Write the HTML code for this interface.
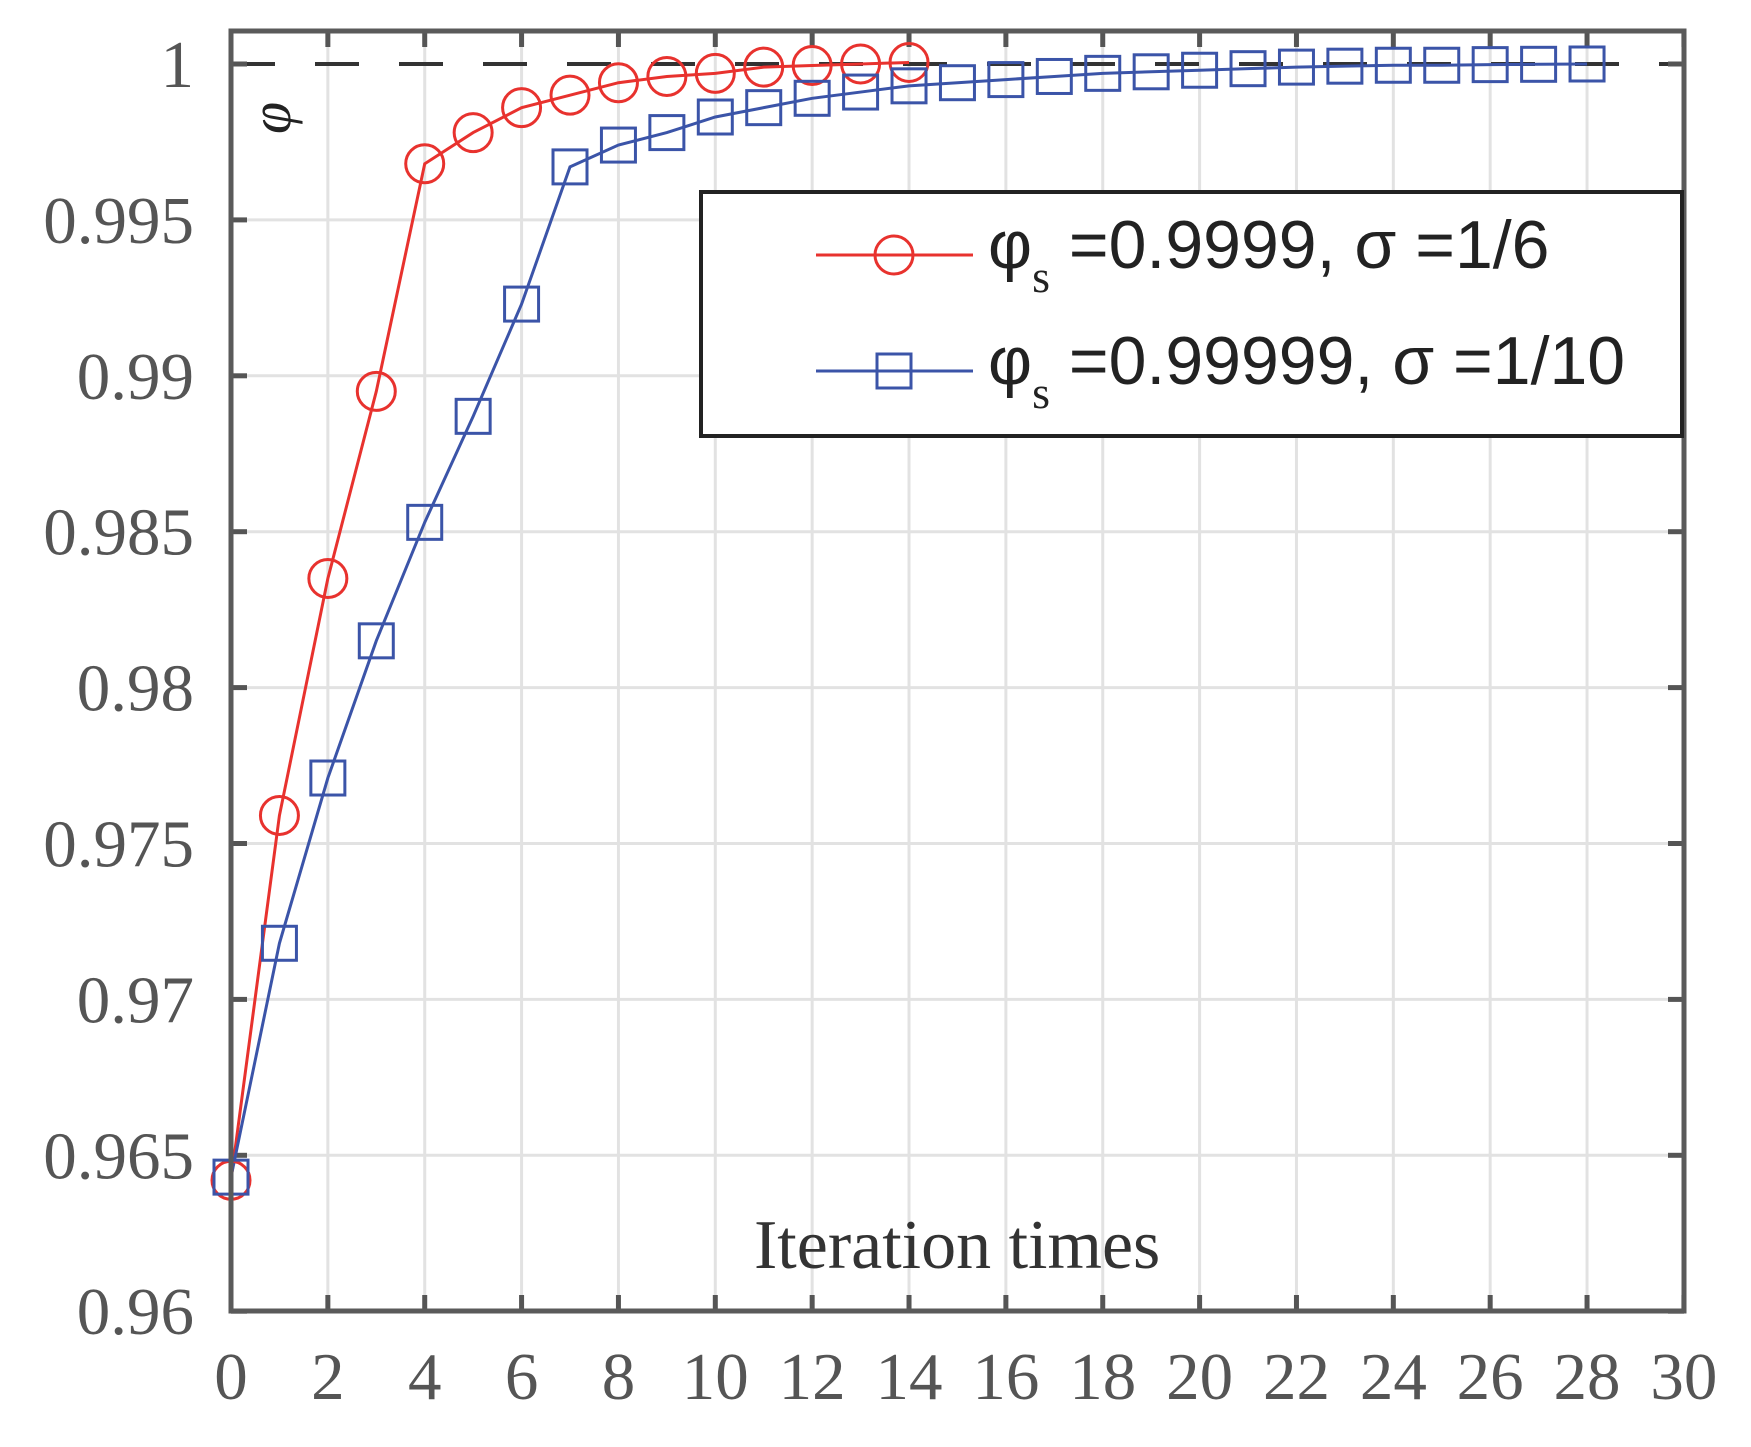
<!DOCTYPE html>
<html><head><meta charset="utf-8"><style>
html,body{margin:0;padding:0;background:#fff;}
svg{display:block}
</style></head><body>
<svg id="s" width="1751" height="1447" xmlns="http://www.w3.org/2000/svg">
<g id="grid" stroke="#e2e2e2" stroke-width="3"></g>
<line x1="231" y1="64" x2="1684" y2="64" stroke="#333" stroke-width="4" stroke-dasharray="44,40"/>
<g id="ticks" stroke="#555" stroke-width="5"></g>
<g id="series"></g>
<rect x="231" y="31" width="1453" height="1280" fill="none" stroke="#5a5a5a" stroke-width="5"/>
<g id="labels" font-family="Liberation Serif, serif" font-size="67" fill="#555"></g>
<text x="754" y="1268" font-family="Liberation Serif, serif" font-size="70" fill="#333">Iteration times</text>
<text transform="translate(290,118) rotate(-90)" font-family="Liberation Serif, serif" font-style="italic" font-size="58" fill="#222" text-anchor="middle">φ</text>
<rect x="701" y="192" width="981" height="244" fill="#fff" stroke="#222" stroke-width="4"/>
<line x1="816" y1="255" x2="973" y2="255" stroke="#e8322e" stroke-width="3"/>
<circle cx="894" cy="255" r="19" fill="none" stroke="#e8322e" stroke-width="3"/>
<line x1="816" y1="371" x2="973" y2="371" stroke="#3b54a8" stroke-width="3"/>
<rect x="877" y="354" width="34" height="34" fill="none" stroke="#3b54a8" stroke-width="3"/>
<g font-family="Liberation Sans, sans-serif" font-size="68" fill="#222">
<text x="988" y="268">φ<tspan font-family="Liberation Serif, serif" font-size="46" dy="24">s</tspan><tspan dy="-24"> =0.9999, σ =1/6</tspan></text>
<text x="988" y="384">φ<tspan font-family="Liberation Serif, serif" font-size="46" dy="24">s</tspan><tspan dy="-24"> =0.99999, σ =1/10</tspan></text>
</g>
</svg>
<script>
var NS="http://www.w3.org/2000/svg";
function X(i){return 231+48.43*i;}
function Y(v){return 64+(1-v)/0.005*155.9;}
function el(t,a,p){var e=document.createElementNS(NS,t);for(var k in a)e.setAttribute(k,a[k]);document.getElementById(p).appendChild(e);return e;}
for(var i=0;i<=30;i+=2){var x=X(i);
 if(i>0&&i<30)el("line",{x1:x,y1:31,x2:x,y2:1311},"grid");
 el("line",{x1:x,y1:1311,x2:x,y2:1295},"ticks");el("line",{x1:x,y1:31,x2:x,y2:47},"ticks");
 var t=el("text",{x:x,y:1399,"text-anchor":"middle"},"labels");t.textContent=i;}
var yl=["0.96","0.965","0.97","0.975","0.98","0.985","0.99","0.995","1"];
for(var j=0;j<=8;j++){var v=0.96+j*0.005,y=Y(v);
 if(j>0&&j<8)el("line",{x1:231,y1:y,x2:1684,y2:y},"grid");
 el("line",{x1:231,y1:y,x2:247,y2:y},"ticks");el("line",{x1:1684,y1:y,x2:1668,y2:y},"ticks");
 var t=el("text",{x:194,y:y+23,"text-anchor":"end"},"labels");t.textContent=yl[j];}
var red=[0.9642,0.9759,0.9835,0.9895,0.9968,0.9978,0.9986,0.999,0.9994,0.9996,0.9997,0.9999,0.99995,1,1.00005];
var blue=[0.9643,0.9718,0.9771,0.9815,0.9853,0.9887,0.9923,0.9967,0.9974,0.9978,0.9983,0.9986,0.9989,0.9991,0.9993,0.9994,0.9995,0.9996,0.9997,0.99975,0.9998,0.99985,0.9999,0.99993,0.99996,0.99996,0.99998,0.99999,1];
function path(d,c){var s="";for(var i=0;i<d.length;i++)s+=(i?"L":"M")+X(i)+" "+Y(d[i]);el("path",{d:s,fill:"none",stroke:c,"stroke-width":3},"series");}
path(red,"#e8322e");path(blue,"#3b54a8");
for(var i=0;i<red.length;i++)el("circle",{cx:X(i),cy:Y(red[i]),r:19,fill:"none",stroke:"#e8322e","stroke-width":3},"series");
for(var i=0;i<blue.length;i++)el("rect",{x:X(i)-17,y:Y(blue[i])-17,width:34,height:34,fill:"none",stroke:"#3b54a8","stroke-width":3},"series");
</script>
</body></html>
